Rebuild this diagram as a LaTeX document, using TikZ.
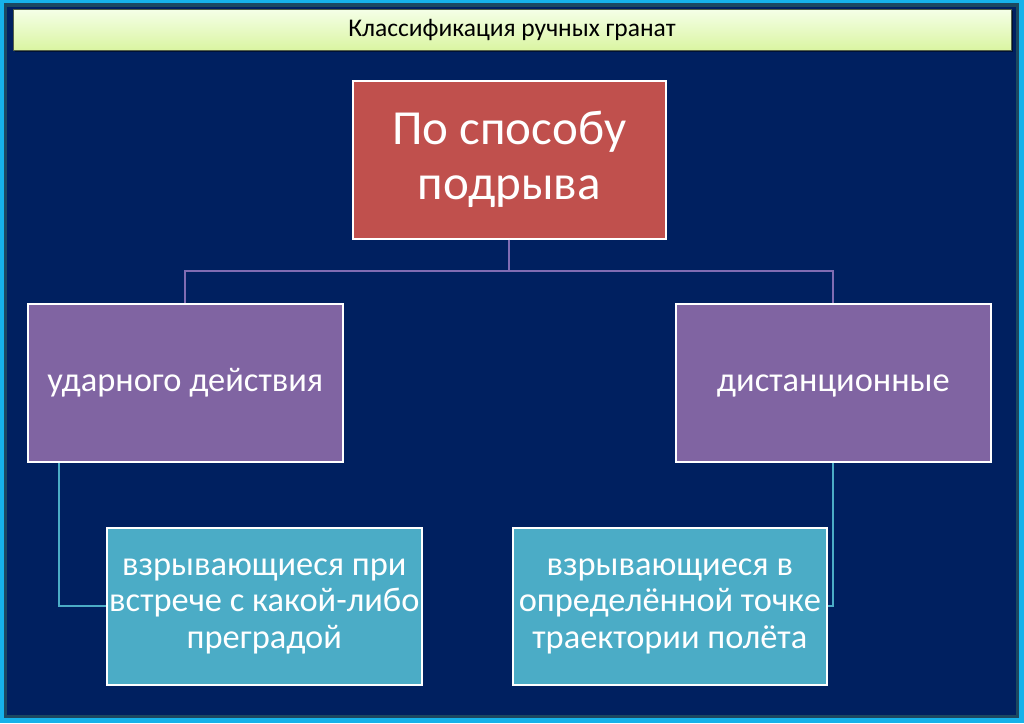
\documentclass[tikz,border=0pt]{standalone}
\usepackage{fontspec}
\setmainfont{Carlito}
\usepackage{tikz}
\usetikzlibrary{positioning,calc,shadows}
\definecolor{slidenavy}{RGB}{0,32,96}
\definecolor{framecyan}{RGB}{22,178,234}
\definecolor{frameedge}{RGB}{28,72,96}
\definecolor{titletop}{RGB}{245,255,232}
\definecolor{titlebot}{RGB}{218,245,162}
\definecolor{titleedge}{RGB}{84,96,72}
\definecolor{rootred}{RGB}{192,80,77}
\definecolor{midpurple}{RGB}{128,100,162}
\definecolor{leafteal}{RGB}{75,172,198}
\definecolor{linkpurple}{RGB}{128,108,178}
\tikzset{
  titlebar/.style={draw=titleedge, line width=1pt, top color=titletop, bottom color=titlebot,
                   minimum width=998pt, minimum height=41pt, inner sep=0pt,
                   text height=19pt, text depth=6pt,
                   font=\fontsize{25.5}{28}\selectfont,
                   drop shadow={shadow xshift=1.5pt, shadow yshift=-1.5pt, fill=black, opacity=0.45}},
  box/.style={draw=white, line width=1.6pt, anchor=north west, align=center, text=white, inner sep=0pt},
  rootbox/.style={box, fill=rootred, minimum width=313pt, minimum height=158pt,
                  font=\fontsize{49}{55}\selectfont},
  midbox/.style={box, fill=midpurple, minimum width=315pt, minimum height=158pt,
                 text height=25.8pt, text depth=8.6pt, font=\fontsize{34.4}{36}\selectfont},
  leafbox/.style={box, fill=leafteal, minimum height=157pt,
                  font=\fontsize{34.4}{36.5}\selectfont},
  link/.style={line width=1.8pt, linkpurple},
  leaflink/.style={line width=1.8pt, leafteal}
}
\begin{document}
\begin{tikzpicture}[x=1pt, y=-1pt]
\useasboundingbox (0,0) rectangle (1024,723);
% slide frame
\fill[framecyan] (0,0) rectangle (1024,723);
\fill[frameedge] (4,3) rectangle (1019,718);
\fill[slidenavy] (7,7) rectangle (1016,715);
\node[titlebar] (title) at (512,29.5) {Классификация ручных гранат};
% boxes
\node[rootbox] (root) at (352,80) {По способу\\подрыва};
\node[midbox] (lmid) at (27,303) {ударного действия};
\node[midbox] (rmid) at (675,303) {дистанционные};
\node[leafbox, minimum width=315pt] (lleaf) at (106,527) {взрывающиеся при\\встрече с какой-либо\\преградой};
\node[leafbox, minimum width=314pt] (rleaf) at (512,527) {взрывающиеся в\\определённой точке\\траектории полёта};
% connectors
\draw[link] (root.south) -- ++(0,31) coordinate (fork);
\draw[link] (fork) -| (lmid.north);
\draw[link] (fork) -| (rmid.north);
\draw[leaflink] ($(lmid.south west)+(32,0)$) |- (lleaf.west);
\draw[leaflink] (rmid.south) |- (rleaf.east);
\end{tikzpicture}
\end{document}
